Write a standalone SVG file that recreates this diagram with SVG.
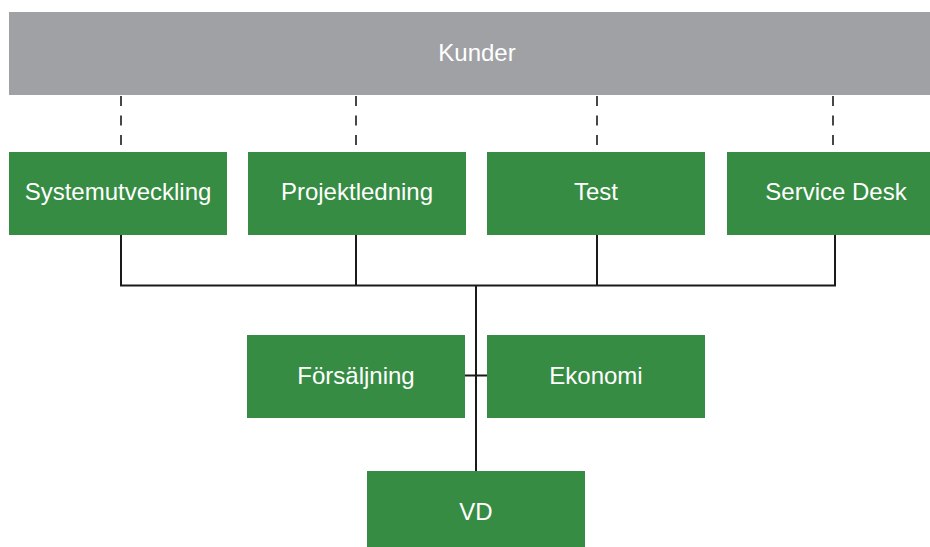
<svg xmlns="http://www.w3.org/2000/svg" width="930" height="547" viewBox="0 0 930 547">
<style>
.box{fill:#368C43}
.grey{fill:#A0A1A5}
.t{font-family:"Liberation Sans",Arial,sans-serif;font-size:24px;fill:#ffffff;text-anchor:middle}
.ln{stroke:#1a1a1a;stroke-width:2;fill:none}
.dash{stroke:#1a1a1a;stroke-width:1.6;fill:none;stroke-dasharray:10 9.5}
</style>
<rect width="930" height="547" fill="#ffffff"/>
<g id="connectors">
<path class="dash" d="M121 96V147M356 96V147M597 96V147M833 96V147"/>
<path class="ln" d="M121 235V285.5H835V235M356 235V285.5M597 235V285.5M476 285.5V471M465 375.5H487"/>
</g>
<g id="kunder"><rect class="grey" x="9" y="12" width="936" height="83"/><text class="t" x="477" y="61">Kunder</text></g>
<g id="systemutveckling"><rect class="box" x="9" y="152" width="218" height="83"/><text class="t" x="118" y="200">Systemutveckling</text></g>
<g id="projektledning"><rect class="box" x="248" y="152" width="218" height="83"/><text class="t" x="357" y="200">Projektledning</text></g>
<g id="test"><rect class="box" x="487" y="152" width="218" height="83"/><text class="t" x="596" y="200">Test</text></g>
<g id="servicedesk"><rect class="box" x="727" y="152" width="218" height="83"/><text class="t" x="836" y="200">Service Desk</text></g>
<g id="forsaljning"><rect class="box" x="247" y="335" width="218" height="83"/><text class="t" x="356" y="384">Försäljning</text></g>
<g id="ekonomi"><rect class="box" x="487" y="335" width="218" height="83"/><text class="t" x="596" y="384">Ekonomi</text></g>
<g id="vd"><rect class="box" x="367" y="471" width="218" height="83"/><text class="t" x="476" y="520">VD</text></g>
</svg>
